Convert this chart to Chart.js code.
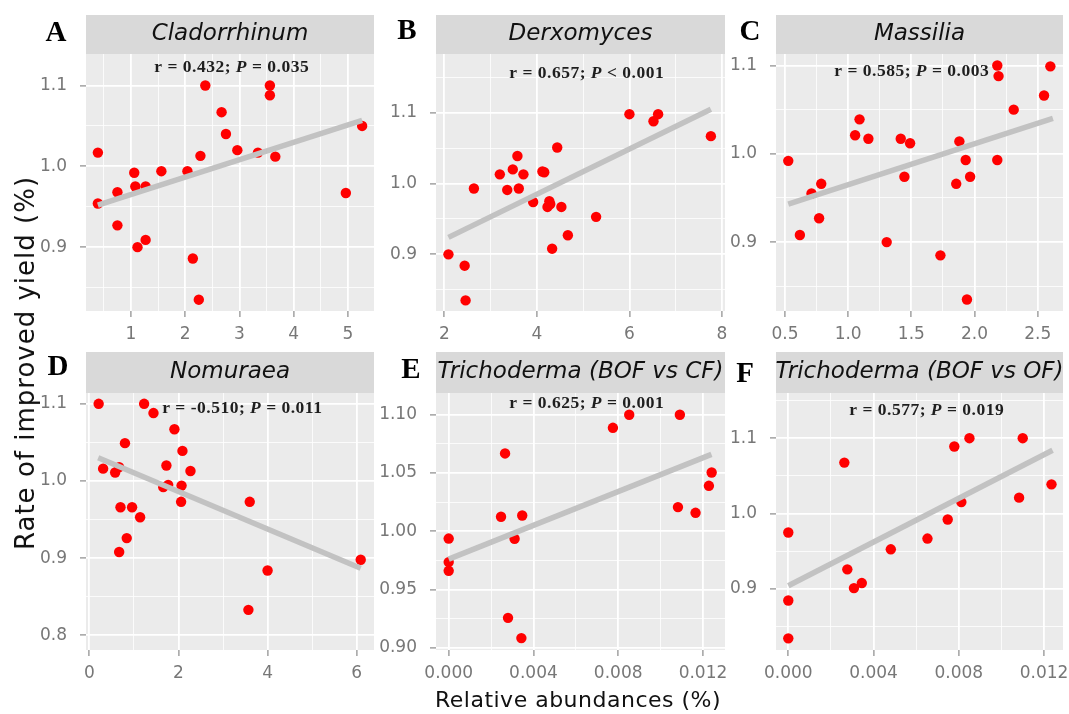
<!DOCTYPE html>
<html>
<head>
<meta charset="utf-8">
<script src="https://cdn.jsdelivr.net/npm/chart.js@4.4.0/dist/chart.umd.min.js"></script>
<style>
  body { margin: 0; background: #fff; }
  #wrap { position: relative; width: 1069px; height: 714px; overflow: hidden; background: #fff; }
  canvas { position: absolute; }
  #ytitle {
    position: absolute; left: 24.5px; top: 363px;
    transform: translate(-50%, -50%) rotate(-90deg);
    white-space: nowrap; font: 26px "DejaVu Sans"; line-height: 26px;
    letter-spacing: 1px; color: #111;
  }
  #xtitle {
    position: absolute; left: 578px; top: 689px;
    transform: translateX(-50%);
    white-space: nowrap; font: 22px "DejaVu Sans"; line-height: 22px;
    letter-spacing: 0.5px; color: #111;
  }
</style>
</head>
<body>
<div id="wrap">
  <canvas id="cA"></canvas>
  <canvas id="cB"></canvas>
  <canvas id="cC"></canvas>
  <canvas id="cD"></canvas>
  <canvas id="cE"></canvas>
  <canvas id="cF"></canvas>
  <div id="ytitle">Rate of improved yield (%)</div>
  <div id="xtitle">Relative abundances (%)</div>
</div>
<script>
// A - Cladorrhinum
const xA = [0.39, 0.39, 0.75, 0.75, 1.06, 1.08, 1.27, 1.12, 1.27, 1.56, 2.04, 2.14, 2.25, 2.28, 2.37, 2.67, 2.75, 2.96, 3.34, 3.56, 3.56, 3.66, 4.96, 5.26];
const yA = [1.017, 0.954, 0.968, 0.927, 0.992, 0.975, 0.975, 0.900, 0.909, 0.994, 0.994, 0.886, 0.835, 1.013, 1.100, 1.067, 1.040, 1.020, 1.017, 1.100, 1.088, 1.012, 0.967, 1.050];
const fitXA = [0.39, 5.26], fitYA = [0.952, 1.057];
const xTicksA = ['1', '2', '3', '4', '5'];
const yTicksA = ['0.9', '1.0', '1.1'];
const annA = ['r = 0.432; ', 'P', ' = 0.035'];

// B - Derxomyces
const xB = [2.09, 2.44, 2.46, 2.64, 3.20, 3.36, 3.48, 3.58, 3.61, 3.71, 3.92, 4.12, 4.16, 4.27, 4.23, 4.29, 4.33, 4.44, 4.53, 4.67, 5.28, 6.00, 6.52, 6.62, 7.76];
const yB = [0.900, 0.884, 0.835, 0.993, 1.013, 0.991, 1.020, 1.039, 0.993, 1.013, 0.974, 1.017, 1.016, 0.975, 0.967, 0.971, 0.908, 1.051, 0.967, 0.927, 0.953, 1.098, 1.088, 1.098, 1.067];
const fitXB = [2.09, 7.76], fitYB = [0.924, 1.105];
const xTicksB = ['2', '4', '6', '8'];
const yTicksB = ['0.9', '1.0', '1.1'];
const annB = ['r = 0.657; ', 'P', ' < 0.001'];

// C - Massilia
const xC = [0.526, 0.618, 0.71, 0.787, 0.77, 1.055, 1.09, 1.16, 1.305, 1.416, 1.49, 1.445, 1.73, 1.855, 1.88, 1.93, 1.965, 1.94, 2.18, 2.19, 2.18, 2.31, 2.55, 2.60];
const yC = [0.992, 0.908, 0.955, 0.966, 0.927, 1.021, 1.039, 1.017, 0.900, 1.017, 1.012, 0.974, 0.885, 0.966, 1.014, 0.993, 0.974, 0.835, 1.100, 1.088, 0.993, 1.050, 1.066, 1.099];
const fitXC = [0.526, 2.62], fitYC = [0.943, 1.040];
const xTicksC = ['0.5', '1.0', '1.5', '2.0', '2.5'];
const yTicksC = ['0.9', '1.0', '1.1'];
const annC = ['r = 0.585; ', 'P', ' = 0.003'];

// D - Nomuraea
const xD = [0.21, 0.31, 0.58, 0.67, 0.80, 0.70, 0.96, 1.14, 0.84, 0.67, 1.23, 1.44, 1.91, 1.73, 1.66, 1.77, 2.09, 2.27, 2.07, 2.06, 3.60, 4.00, 3.57, 6.09];
const yD = [1.100, 1.016, 1.011, 1.018, 1.049, 0.966, 0.966, 0.953, 0.926, 0.908, 1.100, 1.088, 1.067, 1.020, 0.992, 0.995, 1.039, 1.013, 0.994, 0.973, 0.973, 0.884, 0.833, 0.898];
const fitXD = [0.20, 6.09], fitYD = [1.030, 0.887];
const xTicksD = ['0', '2', '4', '6'];
const yTicksD = ['0.8', '0.9', '1.0', '1.1'];
const annD = ['r = -0.510; ', 'P', ' = 0.011'];

// E - Trichoderma (BOF vs CF)
const xE = [0, 0, 0, 0.00266, 0.00247, 0.00347, 0.00311, 0.0028, 0.00343, 0.00775, 0.00852, 0.01091, 0.01082, 0.01165, 0.01228, 0.01241];
const yE = [0.9937, 0.9735, 0.966, 1.0668, 1.0124, 1.0135, 0.9935, 0.9256, 0.9082, 1.0888, 1.100, 1.100, 1.0207, 1.0158, 1.039, 1.0504];
const fitXE = [0, 0.0124], fitYE = [0.976, 1.066];
const xTicksE = ['0.000', '0.004', '0.008', '0.012'];
const yTicksE = ['0.90', '0.95', '1.00', '1.05', '1.10'];
const annE = ['r = 0.625; ', 'P', ' = 0.001'];

// F - Trichoderma (BOF vs OF)
const xF = [0, 0, 0, 0.00263, 0.00277, 0.00308, 0.00345, 0.00481, 0.00653, 0.00748, 0.00812, 0.00779, 0.0085, 0.0110, 0.01083, 0.01235];
const yF = [0.9747, 0.8844, 0.8342, 1.0676, 0.9258, 0.9009, 0.9076, 0.9524, 0.9667, 0.992, 1.0151, 1.0889, 1.100, 1.100, 1.021, 1.0387];
const fitXF = [0, 0.0124], fitYF = [0.904, 1.084];
const xTicksF = ['0.000', '0.004', '0.008', '0.012'];
const yTicksF = ['0.9', '1.0', '1.1'];
const annF = ['r = 0.577; ', 'P', ' = 0.019'];

const panels = [
  {id: 'A', title: 'Cladorrhinum', x: xA, y: yA, fx: fitXA, fy: fitYA, xt: xTicksA, yt: yTicksA, ann: annA,
   xr: [0.171, 5.479], yr: [0.821, 1.139], left: 86, top: 54, w: 288, h: 257, strip: 39, letterDx: -30, letterY: 34, annDx: 145.7, annDy: 13.7},
  {id: 'B', title: 'Derxomyces', x: xB, y: yB, fx: fitXB, fy: fitYB, xt: xTicksB, yt: yTicksB, ann: annB,
   xr: [1.821, 8.065], yr: [0.820, 1.183], left: 436, top: 54, w: 289, h: 257, strip: 39, letterDx: -29, letterY: 32, annDx: 150.7, annDy: 19.3},
  {id: 'C', title: 'Massilia', x: xC, y: yC, fx: fitXC, fy: fitYC, xt: xTicksC, yt: yTicksC, ann: annC,
   xr: [0.429, 2.700], yr: [0.822, 1.113], left: 776, top: 54, w: 287, h: 257, strip: 39, letterDx: -26, letterY: 32.5, annDx: 135.7, annDy: 17.7},
  {id: 'D', title: 'Nomuraea', x: xD, y: yD, fx: fitXD, fy: fitYD, xt: xTicksD, yt: yTicksD, ann: annD,
   xr: [-0.074, 6.388], yr: [0.781, 1.114], left: 86, top: 393, w: 288, h: 257, strip: 41, letterDx: -28, letterY: 367.5, annDx: 156.3, annDy: 15.4},
  {id: 'E', title: 'Trichoderma (BOF vs CF)', x: xE, y: yE, fx: fitXE, fy: fitYE, xt: xTicksE, yt: yTicksE, ann: annE,
   xr: [-0.000599, 0.01304], yr: [0.898, 1.1187], left: 436, top: 393, w: 289, h: 257, strip: 41, letterDx: -25, letterY: 371, annDx: 150.7, annDy: 10},
  {id: 'F', title: 'Trichoderma (BOF vs OF)', x: xF, y: yF, fx: fitXF, fy: fitYF, xt: xTicksF, yt: yTicksF, ann: annF,
   xr: [-0.000577, 0.01289], yr: [0.8187, 1.16], left: 776, top: 393, w: 287, h: 257, strip: 41, letterDx: -31, letterY: 375, annDx: 150.7, annDy: 17}
];

const AXW = 80, AXH = 32, PADT = 15, PADR = 15;

// major ticks from the labels, minor ones half way between
function makeTicks(labels, range) {
  const vals = labels.map(Number);
  const step = vals[1] - vals[0], h = step / 2;
  const out = vals.map((v, i) => ({value: v, lab: labels[i], minor: false}));
  for (let v = vals[0] - h; v >= range[0]; v -= step) out.push({value: v, lab: '', minor: true});
  for (let i = 0; i < vals.length - 1; i++) out.push({value: vals[i] + h, lab: '', minor: true});
  for (let v = vals[vals.length - 1] + h; v <= range[1]; v += step) out.push({value: v, lab: '', minor: true});
  return out.sort((a, b) => a.value - b.value);
}

function axisOpts(labels, range, axis) {
  return {
    type: 'linear',
    min: range[0],
    max: range[1],
    afterBuildTicks: s => { s.ticks = makeTicks(labels, range); },
    afterFit: s => { if (axis === 'x') s.height = AXH; else s.width = AXW; },
    border: {display: false},
    grid: {
      color: '#FFFFFF',
      lineWidth: c => (c.tick && c.tick.minor) ? 0.8 : 1.8,
      drawTicks: true,
      tickLength: 6,
      tickWidth: 1.2,
      tickColor: c => (c.tick && c.tick.minor) ? 'rgba(0,0,0,0)' : '#8a8a8a'
    },
    ticks: {
      autoSkip: false,
      maxRotation: 0,
      minRotation: 0,
      padding: axis === 'x' ? 7 : 13,
      color: '#777777',
      font: {family: 'DejaVu Sans', size: 17},
      callback: (v, i, ticks) => ticks[i].lab
    }
  };
}

function panelPlugin(p, canvasTop) {
  return {
    id: 'panel' + p.id,
    beforeDraw(chart) {
      const ctx = chart.ctx, a = chart.chartArea;
      ctx.save();
      ctx.fillStyle = '#EBEBEB';
      ctx.fillRect(a.left, a.top, a.right - a.left, a.bottom - a.top);
      ctx.fillStyle = '#D9D9D9';
      ctx.fillRect(a.left, a.top - p.strip, a.right - a.left, p.strip);
      ctx.fillStyle = '#111';
      ctx.font = 'italic 23px "DejaVu Sans"';
      ctx.textAlign = 'center';
      ctx.textBaseline = 'middle';
      ctx.fillText(p.title, (a.left + a.right) / 2, a.top - p.strip / 2);
      ctx.fillStyle = '#000';
      ctx.font = 'bold 29px "Liberation Serif"';
      ctx.fillText(p.id, a.left + p.letterDx, p.letterY - canvasTop);
      ctx.restore();
    },
    afterDatasetsDraw(chart) {
      const ctx = chart.ctx, a = chart.chartArea;
      ctx.save();
      ctx.letterSpacing = '0.5px';
      ctx.fillStyle = '#1e1e1e';
      ctx.textBaseline = 'middle';
      ctx.textAlign = 'left';
      const fonts = ['bold 17.5px "Liberation Serif"', 'italic bold 17.5px "Liberation Serif"', 'bold 17.5px "Liberation Serif"'];
      const widths = p.ann.map((t, i) => { ctx.font = fonts[i]; return ctx.measureText(t).width; });
      const total = widths.reduce((s, w) => s + w, 0);
      let x = a.left + p.annDx - total / 2;
      const y = a.top + p.annDy;
      p.ann.forEach((t, i) => { ctx.font = fonts[i]; ctx.fillText(t, x, y); x += widths[i]; });
      ctx.restore();
    }
  };
}

panels.forEach(p => {
  const cv = document.getElementById('c' + p.id);
  const W = AXW + p.w + PADR;
  const H = PADT + p.strip + p.h + AXH;
  const cLeft = p.left - AXW, cTop = p.top - p.strip - PADT;
  cv.width = W; cv.height = H;
  cv.style.width = W + 'px'; cv.style.height = H + 'px';
  cv.style.left = cLeft + 'px'; cv.style.top = cTop + 'px';

  new Chart(cv, {
    type: 'scatter',
    data: {
      datasets: [
        {
          type: 'line',
          data: p.fx.map((x, i) => ({x: x, y: p.fy[i]})),
          borderColor: '#C2C2C2',
          borderWidth: 5.5,
          pointRadius: 0,
          showLine: true,
          fill: false,
          tension: 0
        },
        {
          data: p.x.map((x, i) => ({x: x, y: p.y[i]})),
          backgroundColor: '#FF0000',
          borderWidth: 0,
          pointRadius: 5.2,
          pointHoverRadius: 5.2
        }
      ]
    },
    options: {
      responsive: false,
      animation: false,
      events: [],
      layout: {padding: {top: PADT + p.strip, right: PADR, bottom: 0, left: 0}},
      plugins: {legend: {display: false}, tooltip: {enabled: false}},
      scales: {
        x: axisOpts(p.xt, p.xr, 'x'),
        y: axisOpts(p.yt, p.yr, 'y')
      }
    },
    plugins: [panelPlugin(p, cTop)]
  });
});
</script>
</body>
</html>
